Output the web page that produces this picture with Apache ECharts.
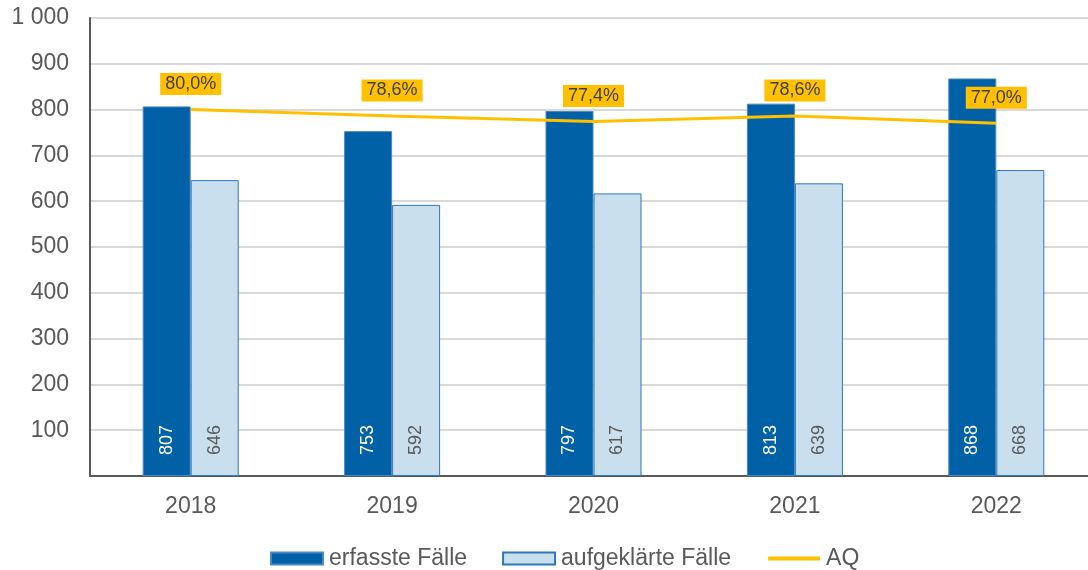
<!DOCTYPE html>
<html>
<head>
<meta charset="utf-8">
<script src="https://cdn.jsdelivr.net/npm/echarts@6/dist/echarts.min.js"></script>
<style>
html,body{margin:0;padding:0;background:#fff;overflow:hidden;}
#chart{width:1100px;height:570px;}
</style>
</head>
<body>
<div id="chart"></div>
<script>
const categories = ['2018', '2019', '2020', '2021', '2022'];
const erfassteFaelle = [807, 753, 797, 813, 868];
const aufgeklaerteFaelle = [646, 592, 617, 639, 668];
const aq = [80.0, 78.6, 77.4, 78.6, 77.0];

const FONT = '"Liberation Sans", Arial, sans-serif';
const chart = echarts.init(document.getElementById('chart'));
chart.setOption({
  animation: false,
  textStyle: { fontFamily: FONT },
  grid: { left: 90, top: 18, height: 458, width: 1007, containLabel: false },
  legend: {
    top: 542,
    left: 265,
    itemWidth: 52,
    itemHeight: 12,
    itemGap: 35,
    textStyle: { fontFamily: FONT, fontSize: 23, color: '#595959', padding: [0, 0, 0, 1] },
    data: [
      { name: 'erfasste Fälle', icon: 'rect' },
      { name: 'aufgeklärte Fälle', icon: 'rect' },
      { name: 'AQ', lineStyle: { width: 4, color: '#FFC000' } }
    ]
  },
  xAxis: {
    type: 'category',
    data: categories,
    axisLine: { lineStyle: { color: '#595959', width: 2 } },
    axisTick: { show: false },
    axisLabel: { fontFamily: FONT, fontSize: 23, color: '#595959', margin: 19 }
  },
  yAxis: [
    {
      type: 'value', min: 0, max: 1000, interval: 100,
      axisLine: { show: true, lineStyle: { color: '#595959', width: 2 } },
      axisTick: { show: false },
      splitLine: { lineStyle: { color: '#D9D9D9', width: 2 } },
      axisLabel: {
        fontFamily: FONT, fontSize: 23, color: '#595959', margin: 21,
        formatter: function (v) {
          if (v === 0) return '';
          return v >= 1000 ? (Math.floor(v / 1000) + ' ' + String(v % 1000).padStart(3, '0')) : String(v);
        }
      }
    },
    { type: 'value', min: 0, max: 100, show: false }
  ],
  series: [
    {
      name: 'erfasste Fälle', type: 'bar', data: erfassteFaelle,
      barWidth: 48, barGap: '0%',
      itemStyle: { color: '#0061A7', borderColor: '#4A88C0', borderWidth: 1 },
      label: {
        show: true, position: 'insideBottom', rotate: 90, distance: 21,
        align: 'left', verticalAlign: 'middle',
        fontFamily: FONT, fontSize: 18, color: '#FFFFFF'
      },
      z: 2
    },
    {
      name: 'aufgeklärte Fälle', type: 'bar', data: aufgeklaerteFaelle,
      barWidth: 48,
      itemStyle: { color: '#C9DFEE', borderColor: '#2E78BC', borderWidth: 1 },
      label: {
        show: true, position: 'insideBottom', rotate: 90, distance: 21,
        align: 'left', verticalAlign: 'middle',
        fontFamily: FONT, fontSize: 18, color: '#595959'
      },
      z: 2
    },
    {
      name: 'AQ', type: 'line', yAxisIndex: 1, data: aq,
      symbol: 'circle', symbolSize: 1, showSymbol: true,
      lineStyle: { color: '#FFC000', width: 3 },
      itemStyle: { color: 'rgba(0,0,0,0)' },
      label: {
        show: true, position: 'top', distance: 14,
        formatter: function (p) { return p.value.toFixed(1).replace('.', ',') + '%'; },
        backgroundColor: '#FFC000', padding: [2, 5, 2, 5],
        fontFamily: FONT, fontSize: 18, color: '#404040'
      },
      z: 5
    }
  ]
});
</script>
</body>
</html>
